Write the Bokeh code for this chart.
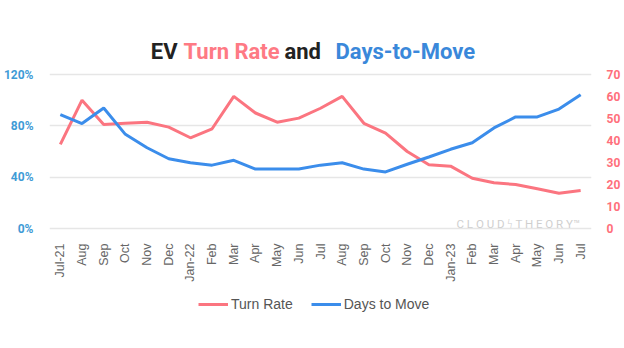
from bokeh.plotting import figure
from bokeh.models import (Range1d, LinearAxis, FixedTicker, PrintfTickFormatter,
                          Label, Legend, LegendItem)
from bokeh.embed import file_html
from bokeh.resources import INLINE
import math

months = ["Jul-21", "Aug", "Sep", "Oct", "Nov", "Dec", "Jan-22", "Feb", "Mar", "Apr",
          "May", "Jun", "Jul", "Aug", "Sep", "Oct", "Nov", "Dec", "Jan-23", "Feb",
          "Mar", "Apr", "May", "Jun", "Jul"]
turn_rate = [65.5, 100, 81, 82, 82.8, 79, 70.7, 77.7, 103, 90, 82.8, 86, 93.7,
             103, 82, 74.3, 60, 49.6, 48.6, 39.2, 35.6, 34.3, 30.9, 27.5, 29.6]
days_to_move = [51.8, 47.7, 54.8, 42.8, 36.7, 31.7, 29.9, 28.8, 31, 27, 27, 27, 28.8,
                29.9, 27, 25.7, 29.2, 32.5, 36, 39, 45.7, 50.7, 50.7, 54.3, 60.8]
left_ticks = [0, 40, 80, 120]
right_ticks = [0, 10, 20, 30, 40, 50, 60, 70]
title_parts = ["EV", "Turn Rate", "and", "Days-to-Move"]
title_colors = ["#222222", "#FE7A84", "#222222", "#3A88DA"]

RED = "#FB7580"
BLUE = "#3B8DEB"
x = list(range(len(months)))

# layout in canvas pixels: frame covers y 20..340, value 0 at y=228, 120 at y=74
FRAME_TOP, PLOT_TOP, ZERO_Y, FRAME_BOTTOM = 20, 74, 228, 340
scale = (ZERO_Y - PLOT_TOP) / 120.0
left_start = -(FRAME_BOTTOM - ZERO_Y) / scale
left_end = (ZERO_Y - FRAME_TOP) / scale
k = 70 / 120.0

p = figure(width=624, height=348, output_backend="svg", toolbar_location=None,
           x_range=Range1d(-0.5, len(months) - 0.5),
           y_range=Range1d(left_start, left_end),
           min_border_left=49, min_border_right=33, min_border_top=FRAME_TOP,
           min_border_bottom=348 - FRAME_BOTTOM)
p.extra_y_ranges = {"right": Range1d(left_start * k, left_end * k)}
p.outline_line_color = None

r1 = p.line(x, turn_rate, line_color=RED, line_width=3)
r2 = p.line(x, days_to_move, line_color=BLUE, line_width=3, y_range_name="right")

xa = p.xaxis[0]
xa.fixed_location = 0
xa.ticker = FixedTicker(ticks=x)
xa.major_label_overrides = {i: m for i, m in enumerate(months)}
xa.major_label_orientation = math.pi / 2
xa.axis_line_color = None
xa.major_tick_line_color = None
xa.minor_tick_line_color = None
xa.major_label_text_color = "#666666"
xa.major_label_text_font = "Liberation Sans"
xa.major_label_text_font_size = "12.5px"
xa.major_label_standoff = 9

ya = p.yaxis[0]
ya.ticker = FixedTicker(ticks=left_ticks)
ya.formatter = PrintfTickFormatter(format="%d%%")
ya.axis_line_color = None
ya.major_tick_line_color = None
ya.minor_tick_line_color = None
ya.major_label_text_color = "#3F9BD6"
ya.major_label_text_font = "Roboto"
ya.major_label_text_font_style = "bold"
ya.major_label_text_font_size = "12px"
ya.major_label_standoff = 10

ra = LinearAxis(y_range_name="right", ticker=FixedTicker(ticks=right_ticks))
ra.axis_line_color = None
ra.major_tick_line_color = None
ra.minor_tick_line_color = None
ra.major_label_text_color = "#FF6F7B"
ra.major_label_text_font = "Roboto"
ra.major_label_text_font_style = "bold"
ra.major_label_text_font_size = "12px"
ra.major_label_standoff = 9
p.add_layout(ra, "right")

p.xgrid.grid_line_color = None
p.ygrid.ticker = FixedTicker(ticks=left_ticks)
p.ygrid.grid_line_color = "#E6E6E6"
p.ygrid.grid_line_width = 1.5

# title (inside the frame's top strip); screen x from frame left, y from frame bottom
title_x = [177 - 49, 183 - 49, 284 - 49, 335 - 49]
title_align = ["right", "left", "left", "left"]
for txt, col, xs, al in zip(title_parts, title_colors, title_x, title_align):
    p.add_layout(Label(x=xs, y=FRAME_BOTTOM - 51, x_units="screen", y_units="screen",
                       text=txt, text_color=col, text_font="Roboto",
                       text_font_style="bold", text_font_size="22px",
                       text_align=al, text_baseline="alphabetic"))

# watermark
p.add_layout(Label(x=407, y=FRAME_BOTTOM - 223.5, x_units="screen", y_units="screen",
                   text="C L O U D  ϟ  T H E O R Y™", text_color="#CFCFCF",
                   text_font="Roboto", text_font_size="11.5px",
                   text_baseline="alphabetic"))

legend = Legend(items=[LegendItem(label="Turn Rate", renderers=[r1]),
                       LegendItem(label="Days to Move", renderers=[r2])],
                orientation="horizontal", location=(149, FRAME_BOTTOM - 314))
legend.border_line_color = None
legend.background_fill_alpha = 0
legend.padding = 0
legend.margin = 0
legend.glyph_width = 30
legend.glyph_height = 20
legend.label_height = 20
legend.label_standoff = 3
legend.spacing = 18
legend.label_text_font = "Liberation Sans"
legend.label_text_font_size = "14px"
legend.label_text_color = "#555555"
p.add_layout(legend, "center")

open("out.html", "w").write(file_html(p, INLINE))
